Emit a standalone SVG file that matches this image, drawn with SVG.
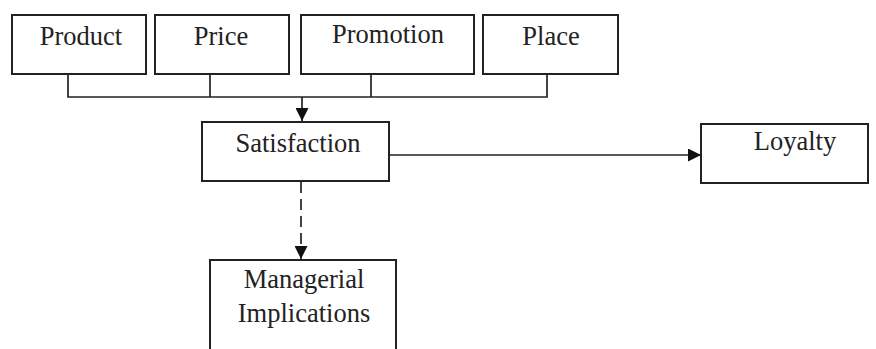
<svg xmlns="http://www.w3.org/2000/svg" width="876" height="349" viewBox="0 0 876 349">
<defs>
<style>
.box{fill:#fff;stroke:#222;stroke-width:2}
.lbl{font-family:"Liberation Serif","Times New Roman",serif;font-size:26.5px;fill:#222;text-anchor:middle}
.ln{fill:none;stroke:#222;stroke-width:1.7}
</style>
<marker id="ah" viewBox="0 0 10 10" refX="10" refY="5" markerWidth="13" markerHeight="13" markerUnits="userSpaceOnUse" orient="auto">
<path d="M0,0 L10,5 L0,10 Z" fill="#111"/>
</marker>
</defs>
<rect width="876" height="349" fill="#fff"/>
<g id="connectors">
<polyline class="ln" points="68,74 68,97 547,97 547,74"/>
<line class="ln" x1="210" y1="74" x2="210" y2="97"/>
<line class="ln" x1="371" y1="74" x2="371" y2="97"/>
<line class="ln" x1="302" y1="97" x2="302" y2="121" marker-end="url(#ah)"/>
<line class="ln" x1="389" y1="155" x2="701" y2="155" marker-end="url(#ah)"/>
<line class="ln" x1="301" y1="182" x2="301" y2="259" stroke-dasharray="11 6" marker-end="url(#ah)"/>
</g>
<g id="product"><rect class="box" x="12" y="15" width="134" height="59"/><text class="lbl" x="81" y="45">Product</text></g>
<g id="price"><rect class="box" x="155" y="15" width="134" height="59"/><text class="lbl" x="221" y="45">Price</text></g>
<g id="promotion"><rect class="box" x="301" y="15" width="173" height="59"/><text class="lbl" x="388" y="43">Promotion</text></g>
<g id="place"><rect class="box" x="483" y="15" width="135" height="59"/><text class="lbl" x="551" y="45">Place</text></g>
<g id="satisfaction"><rect class="box" x="202" y="122" width="187" height="59"/><text class="lbl" x="298" y="152">Satisfaction</text></g>
<g id="loyalty"><rect class="box" x="701" y="124" width="167" height="59"/><text class="lbl" x="795" y="150">Loyalty</text></g>
<g id="managerial"><rect class="box" x="210" y="260" width="186" height="100"/><text class="lbl" x="304" y="288">Managerial</text><text class="lbl" x="304" y="322">Implications</text></g>
</svg>
